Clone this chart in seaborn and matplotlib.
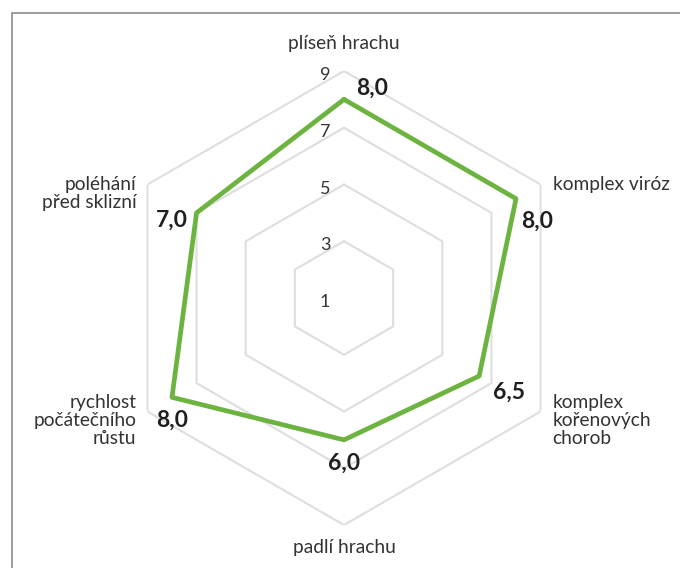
import numpy as np
import pandas as pd
import matplotlib
matplotlib.use("Agg")
import matplotlib.pyplot as plt
from matplotlib.patches import Rectangle
import seaborn as sns

# ---- data ----
categories = ["plíseň hrachu", "komplex viróz", "komplex\nkořenových\nchorob",
              "padlí hrachu", "rychlost\npočátečního\nrůstu", "poléhání\npřed sklizní"]
values = [8.0, 8.0, 6.5, 6.0, 8.0, 7.0]
value_labels = ["8,0", "8,0", "6,5", "6,0", "8,0", "7,0"]
ring_levels = [3, 5, 7, 9]
tick_labels = ["1", "3", "5", "7", "9"]
tick_values = [1, 3, 5, 7, 9]

sns.set_style("white")
plt.rcParams["font.family"] = ["Lato", "DejaVu Sans"]

W, H = 680, 568
fig = plt.figure(figsize=(W / 100, H / 100), dpi=100)

cx, cy, R = 344, 298, 227
ax = fig.add_axes([(cx - R) / W, (H - cy - R) / H, 2 * R / W, 2 * R / H], projection="polar")
ax.set_theta_zero_location("N")
ax.set_theta_direction(-1)
ax.set_ylim(1, 9)
ax.grid(False)
ax.spines["polar"].set_visible(False)
ax.patch.set_visible(False)

n = len(categories)
theta = np.arange(n) * 2 * np.pi / n
theta_closed = np.append(theta, theta[0])

# hexagon grid
for lv in ring_levels:
    ax.plot(theta_closed, [lv] * (n + 1), color="#dedede", lw=1.5, zorder=1)

# data polygon via seaborn
df = pd.DataFrame({"theta": theta_closed, "value": values + [values[0]]})
sns.lineplot(data=df, x="theta", y="value", sort=False, estimator=None,
             color="#6DB33F", lw=3.4, ax=ax, zorder=3)
ax.set_xlabel("")
ax.set_ylabel("")
ax.set_xticks([])
ax.set_yticks([])
ax.set_ylim(1, 9)

# radial tick labels
for tv, tl in zip(tick_values, tick_labels):
    ax.annotate(tl, xy=(0, tv), xytext=(-19, -4), textcoords="offset pixels",
                ha="center", va="center", fontsize=13, color="#333333",
                annotation_clip=False)

# value labels
val_offsets = [(28, 11), (21, -23), (30, -16), (0, -23), (0, -23), (-25, -7)]
for t, v, vl, off in zip(theta, values, value_labels, val_offsets):
    ax.annotate(vl, xy=(t, v), xytext=off, textcoords="offset pixels",
                ha="center", va="center", fontsize=16.5, fontweight="bold",
                color="#1f1f1f", annotation_clip=False, zorder=4)

# category labels
cat_offsets = [(0, 28, "center"), (12, 0, "left"), (12, -9, "left"),
               (0, -23, "center"), (-11, -9, "right"), (-11, -9, "right")]
for t, c, (dx, dy, ha) in zip(theta, categories, cat_offsets):
    ax.annotate(c, xy=(t, 9), xytext=(dx, dy), textcoords="offset pixels",
                ha=ha, va="center", multialignment=ha, fontsize=13.8,
                color="#333333", linespacing=1.05, annotation_clip=False)

# outer frame
fig.add_artist(Rectangle((11.5 / W, -0.2), 1.5, 1 - 12.5 / H + 0.2,
                         transform=fig.transFigure, fill=False,
                         edgecolor="#8c8c8c", lw=1.2))

fig.savefig("out.png", dpi=100)
